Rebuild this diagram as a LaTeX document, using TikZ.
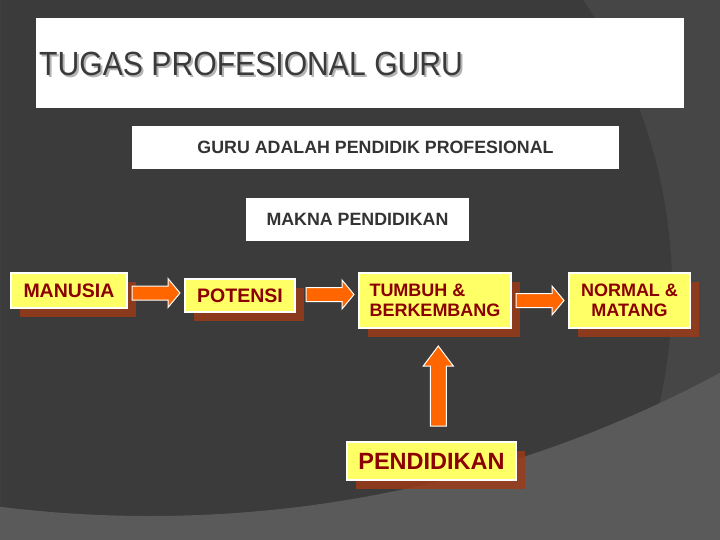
\documentclass[tikz,border=0pt]{standalone}
\usepackage{fontspec}
\setmainfont{Liberation Sans}
\newfontfamily\titlefont[FakeStretch=0.9]{Liberation Sans}
\usetikzlibrary{calc,shadows}
\definecolor{bgdark}{HTML}{3B3B3B}
\definecolor{bgright}{HTML}{464646}
\definecolor{bglow}{HTML}{5A5A5A}
\definecolor{ylw}{HTML}{FFFF66}
\definecolor{dred}{HTML}{8B0000}
\definecolor{shad}{RGB}{160,58,22}
\definecolor{orng}{HTML}{FF6600}
\definecolor{txtg}{HTML}{333333}
\definecolor{ttl}{HTML}{3A3A3A}
\definecolor{ttlsh}{HTML}{B4B4B4}
\newcommand\shadowtext[1]{\rlap{\hspace{2pt}\raisebox{-2pt}{\textcolor{ttlsh}{#1}}}#1}
\begin{document}
\begin{tikzpicture}[x=1pt,y=-1pt,
  whitebox/.style={fill=white, inner sep=0pt, text=txtg, font=\fontsize{17.8}{20}\selectfont\bfseries},
  flowbox/.style={fill=ylw, draw=white, line width=1.5pt, inner sep=0pt, text=dred,
    general shadow={fill=shad, opacity=0.8, shadow xshift=9pt, shadow yshift=-9pt}},
  blockarrow/.style={fill=orng, draw=white, line width=1pt, line join=miter},
  pics/rarrow/.style={code={\path[blockarrow] (-24,-7) -- (12,-7) -- (12,-14.5) -- (24,0) -- (12,14.5) -- (12,7) -- (-24,7) -- cycle;}},
  pics/uarrow/.style={code={\path[blockarrow] (-8,40) -- (-8,-20) -- (-15,-20) -- (0,-40) -- (15,-20) -- (8,-20) -- (8,40) -- cycle;}}]
\useasboundingbox (0,0) rectangle (720,540);
% background
\begin{scope}
  \clip (0,0) rectangle (720,540);
  \fill[bgright] (0,0) rectangle (720,540);
  \fill[bgdark] (155,290) circle (517);
  \fill[bglow, even odd rule] (0,0) rectangle (720,540) (150,-688) circle (1204);
\end{scope}
% title
\node[fill=white, minimum width=648, minimum height=90, inner sep=0pt] (titlebox) at (360,63) {};
\node[anchor=base west, inner sep=0pt, text=ttl, font=\titlefont\fontsize{33.5}{36}\selectfont] (title) at (39,76) {\shadowtext{TUGAS PROFESIONAL GURU}};
% white boxes
\node[whitebox, minimum width=487, minimum height=43] (guru) at (375.5,147.5) {GURU ADALAH PENDIDIK PROFESIONAL};
\node[whitebox, minimum width=223, minimum height=43] (makna) at (357.5,219.5) {MAKNA PENDIDIKAN};
% flow boxes
\node[flowbox, minimum width=116, minimum height=35, font=\fontsize{19.5}{22}\selectfont\bfseries] (manusia) at (69,290.5) {MANUSIA};
\node[flowbox, minimum width=110, minimum height=33, font=\fontsize{19.5}{22}\selectfont\bfseries] (potensi) at (240,295.5) {POTENSI};
\node[flowbox, minimum width=152, minimum height=55, align=left, font=\fontsize{18}{20}\selectfont\bfseries] (tumbuh) at (435,300.5) {TUMBUH \&\\BERKEMBANG};
\node[flowbox, minimum width=121, minimum height=55, align=center, font=\fontsize{18}{20}\selectfont\bfseries] (normal) at (629.5,300.5) {NORMAL \&\\MATANG};
\node[flowbox, minimum width=169, minimum height=38, font=\fontsize{23.5}{26}\selectfont\bfseries] (pend) at (431.5,461) {PENDIDIKAN};
% arrows
\pic at ($(manusia.east)!.5!(potensi.west)$) {rarrow};
\pic at ($(potensi.east)!.5!(tumbuh.west)+(3,-3.5)$) {rarrow};
\pic at ($(tumbuh.east)!.5!(normal.west)$) {rarrow};
\pic at ($(pend.north)!.5!(tumbuh.south)+(5,1)$) {uarrow};
\end{tikzpicture}
\end{document}
